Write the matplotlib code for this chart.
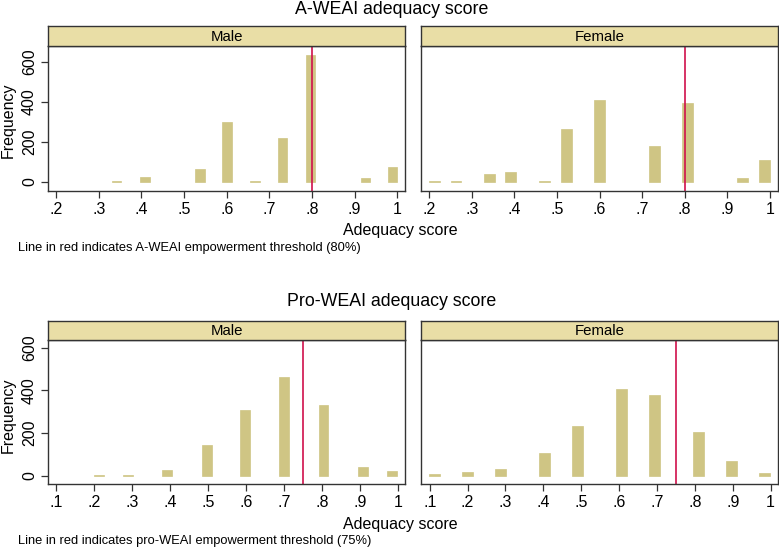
import matplotlib.pyplot as plt

# A-WEAI adequacy score histograms (bar centres)
aweai_male_x = [0.342, 0.408, 0.537, 0.601, 0.666, 0.731, 0.796, 0.925, 0.989]
aweai_male_n = [7, 25, 65, 302, 7, 218, 635, 18, 75]
aweai_female_x = [0.2125, 0.263, 0.341, 0.392, 0.47, 0.522, 0.6, 0.73, 0.807, 0.935, 0.987]
aweai_female_n = [7, 7, 41, 51, 7, 266, 410, 181, 394, 22, 111]

# pro-WEAI adequacy score histograms
pro_male_x = [0.212, 0.288, 0.392, 0.496, 0.598, 0.701, 0.804, 0.908, 0.984]
pro_male_n = [5, 5, 28, 142, 309, 463, 330, 39, 22]
pro_female_x = [0.113, 0.2, 0.288, 0.404, 0.491, 0.607, 0.694, 0.81, 0.897, 0.985]
pro_female_n = [6, 17, 33, 106, 234, 405, 377, 206, 67, 12]

aweai_ticks = [0.2, 0.3, 0.4, 0.5, 0.6, 0.7, 0.8, 0.9, 1.0]
pro_ticks = [0.1, 0.2, 0.3, 0.4, 0.5, 0.6, 0.7, 0.8, 0.9, 1.0]
y_ticks = [0, 200, 400, 600]

plt.rcParams['font.family'] = ['Liberation Sans', 'DejaVu Sans']

BAR = '#cfc584'
STRIP = '#e9dea6'
RED = '#d0104c'
FRAME = '#333333'

W, H = 779, 549
fig = plt.figure(figsize=(W / 100, H / 100), dpi=100)


def px(x0, y0, x1, y1):
    # rectangle in pixel coords (top-left origin) -> figure fraction
    return [x0 / W, 1 - y1 / H, (x1 - x0) / W, (y1 - y0) / H]


def tick_fmt(v):
    return '1' if v >= 0.999 else ('%.1f' % v).lstrip('0')


def panel(rect, strip_rect, label, xs, ns, width, ticks, xlim, ylim, thr, show_y):
    ax = fig.add_axes(px(*rect))
    ax.bar(xs, ns, width=width, color=BAR, edgecolor=BAR, linewidth=0.5)
    ax.axvline(thr, color=RED, lw=1.2)
    ax.set_xlim(*xlim)
    ax.set_ylim(*ylim)
    ax.set_xticks(ticks)
    ax.set_xticklabels([tick_fmt(t) for t in ticks], fontsize=11.5)
    ax.set_yticks(y_ticks)
    if show_y:
        ax.set_yticklabels([str(t) for t in y_ticks], fontsize=11.5,
                           rotation=90, va='center')
    else:
        ax.tick_params(axis='y', left=False, labelleft=False)
    ax.tick_params(direction='out', length=5, width=0.9, color=FRAME, pad=3)
    for s in ax.spines.values():
        s.set_color(FRAME)
        s.set_linewidth(1.0)
    sx = fig.add_axes(px(*strip_rect))
    sx.set_facecolor(STRIP)
    sx.set_xticks([])
    sx.set_yticks([])
    for s in sx.spines.values():
        s.set_color(FRAME)
        s.set_linewidth(1.0)
    sx.text(0.5, 0.45, label, ha='center', va='center', fontsize=10.8,
            transform=sx.transAxes)
    return ax


# top block
panel((48, 46, 405, 191), (48, 26, 405, 46), 'Male', aweai_male_x, aweai_male_n,
      0.022, aweai_ticks, (0.181, 1.018), (-45, 680), 0.8, True)
panel((421, 46, 778, 191), (421, 26, 778, 46), 'Female', aweai_female_x, aweai_female_n,
      0.0255, aweai_ticks, (0.181, 1.019), (-45, 680), 0.8, False)

# bottom block
panel((48, 340, 405, 484), (48, 321, 405, 340), 'Male', pro_male_x, pro_male_n,
      0.026, pro_ticks, (0.078, 1.019), (-39, 636), 0.75, True)
panel((421, 340, 778, 484), (421, 321, 778, 340), 'Female', pro_female_x, pro_female_n,
      0.029, pro_ticks, (0.077, 1.0196), (-39, 636), 0.75, False)

# titles and labels
fig.text(392 / W, 1 - 10 / H, 'A-WEAI adequacy score', ha='center', va='center', fontsize=12.8)
fig.text(392 / W, 1 - 302 / H, 'Pro-WEAI adequacy score', ha='center', va='center', fontsize=12.8)
fig.text(400 / W, 1 - 230 / H, 'Adequacy score', ha='center', va='center', fontsize=11.5)
fig.text(400 / W, 1 - 525 / H, 'Adequacy score', ha='center', va='center', fontsize=11.5)
fig.text(8 / W, 1 - 120 / H, 'Frequency', ha='center', va='center', rotation=90, fontsize=11.5)
fig.text(8 / W, 1 - 415 / H, 'Frequency', ha='center', va='center', rotation=90, fontsize=11.5)
fig.text(18 / W, 1 - 248 / H, 'Line in red indicates A-WEAI empowerment threshold (80%)',
         ha='left', va='center', fontsize=9.3)
fig.text(18 / W, 1 - 541 / H, 'Line in red indicates pro-WEAI empowerment threshold (75%)',
         ha='left', va='center', fontsize=9.3)

fig.savefig('out.png', dpi=100)
